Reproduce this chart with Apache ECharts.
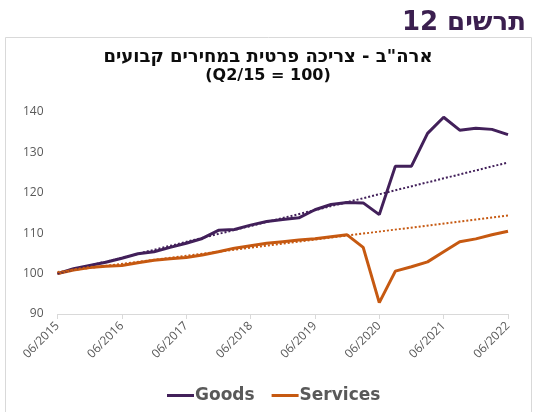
<!DOCTYPE html>
<html>
<head>
<meta charset="utf-8">
<script src="https://cdn.jsdelivr.net/npm/echarts@6/dist/echarts.min.js"></script>
<style>
  html, body { margin: 0; padding: 0; background: #fff; }
  #chart { width: 536px; height: 412px; }
</style>
</head>
<body>
<div id="chart"></div>
<script>
// quarterly, Q2/2015 = 100
const quarters = [
  '06/2015', '09/2015', '12/2015', '03/2016',
  '06/2016', '09/2016', '12/2016', '03/2017',
  '06/2017', '09/2017', '12/2017', '03/2018',
  '06/2018', '09/2018', '12/2018', '03/2019',
  '06/2019', '09/2019', '12/2019', '03/2020',
  '06/2020', '09/2020', '12/2020', '03/2021',
  '06/2021', '09/2021', '12/2021', '03/2022',
  '06/2022'
]
const goods = [
  100.0, 101.2, 102.0, 102.8, 103.8, 104.9, 105.4, 106.5,
  107.5, 108.7, 110.7, 110.9, 112.0, 112.9, 113.4, 113.8,
  115.8, 117.1, 117.6, 117.5, 114.6, 126.6, 126.6, 134.7,
  138.7, 135.5, 136.0, 135.7, 134.4
]
const services = [
  100.0, 100.9, 101.5, 101.8, 102.0, 102.7, 103.3, 103.7,
  104.0, 104.6, 105.4, 106.3, 106.9, 107.5, 107.9, 108.3,
  108.6, 109.1, 109.6, 106.5, 92.8, 100.6, 101.7, 102.9,
  105.4, 107.9, 108.6, 109.6, 110.5
]
// linear trend, start and end values
const goodsTrend = [100.0, 127.5]
const servicesTrend = [100.4, 114.4]

const GOODS_COLOR = '#42205a'
const SERVICES_COLOR = '#c65911'
const AXIS_TEXT = '#595959'

const first = quarters[0]
const last = quarters[quarters.length - 1]

const chart = echarts.init(document.getElementById('chart'), null, { renderer: 'canvas' })

chart.setOption({
  animation: false,
  backgroundColor: '#fff',
  graphic: [{
    type: 'rect',
    shape: { x: 5.5, y: 37.5, width: 526, height: 400 },
    style: { fill: 'none', stroke: '#d9d9d9', lineWidth: 1 },
    silent: true
  }],
  title: [
    {
      text: 'תרשים 12',
      right: 5,
      top: 5,
      textStyle: { fontFamily: 'DejaVu Sans', fontSize: 26, fontWeight: 'bold', color: '#3b1f4f' }
    },
    {
      text: '{a|ארה"ב - צריכה פרטית במחירים קבועים}\n{b|(Q2/15 = 100)}',
      left: 'center',
      top: 43,
      textStyle: {
        align: 'center',
        rich: {
          a: { fontFamily: 'DejaVu Sans', fontSize: 18, fontWeight: 'bold', color: '#0d0d0d', lineHeight: 19, align: 'center' },
          b: { fontFamily: 'DejaVu Sans', fontSize: 16, fontWeight: 'bold', color: '#0d0d0d', lineHeight: 18, align: 'center' }
        }
      }
    }
  ],
  legend: {
    data: ['Goods', 'Services'],
    left: 162,
    top: 382,
    icon: 'rect',
    itemWidth: 27,
    itemHeight: 3,
    itemGap: 17,
    textStyle: { fontFamily: 'DejaVu Sans', fontSize: 17, fontWeight: 'bold', color: AXIS_TEXT, padding: [0, 0, 0, -4] }
  },
  grid: { left: 57.5, right: 28, top: 112, bottom: 98 },
  xAxis: {
    type: 'category',
    data: quarters,
    boundaryGap: false,
    axisLine: { lineStyle: { color: '#d9d9d9', width: 1 } },
    axisTick: { interval: 3, length: 5, lineStyle: { color: '#d9d9d9' } },
    axisLabel: {
      interval: 3, rotate: 45, margin: 10,
      fontFamily: 'Open Sans', fontSize: 12, color: AXIS_TEXT
    }
  },
  yAxis: {
    type: 'value',
    min: 90,
    max: 140,
    interval: 10,
    axisLine: { show: false },
    axisTick: { show: false },
    splitLine: { show: false },
    axisLabel: { margin: 14, fontFamily: 'Open Sans', fontSize: 12, color: AXIS_TEXT }
  },
  series: [
    {
      name: 'Goods', type: 'line', data: goods,
      symbol: 'none', lineStyle: { width: 3, color: GOODS_COLOR },
      itemStyle: { color: GOODS_COLOR }
    },
    {
      name: 'Services', type: 'line', data: services,
      symbol: 'none', lineStyle: { width: 3, color: SERVICES_COLOR },
      itemStyle: { color: SERVICES_COLOR }
    },
    {
      name: 'Goods trend', type: 'line',
      data: [[first, goodsTrend[0]], [last, goodsTrend[1]]],
      symbol: 'none', lineStyle: { width: 2, type: 'dotted', color: GOODS_COLOR }
    },
    {
      name: 'Services trend', type: 'line',
      data: [[first, servicesTrend[0]], [last, servicesTrend[1]]],
      symbol: 'none', lineStyle: { width: 2, type: 'dotted', color: SERVICES_COLOR }
    }
  ]
})
</script>
</body>
</html>
